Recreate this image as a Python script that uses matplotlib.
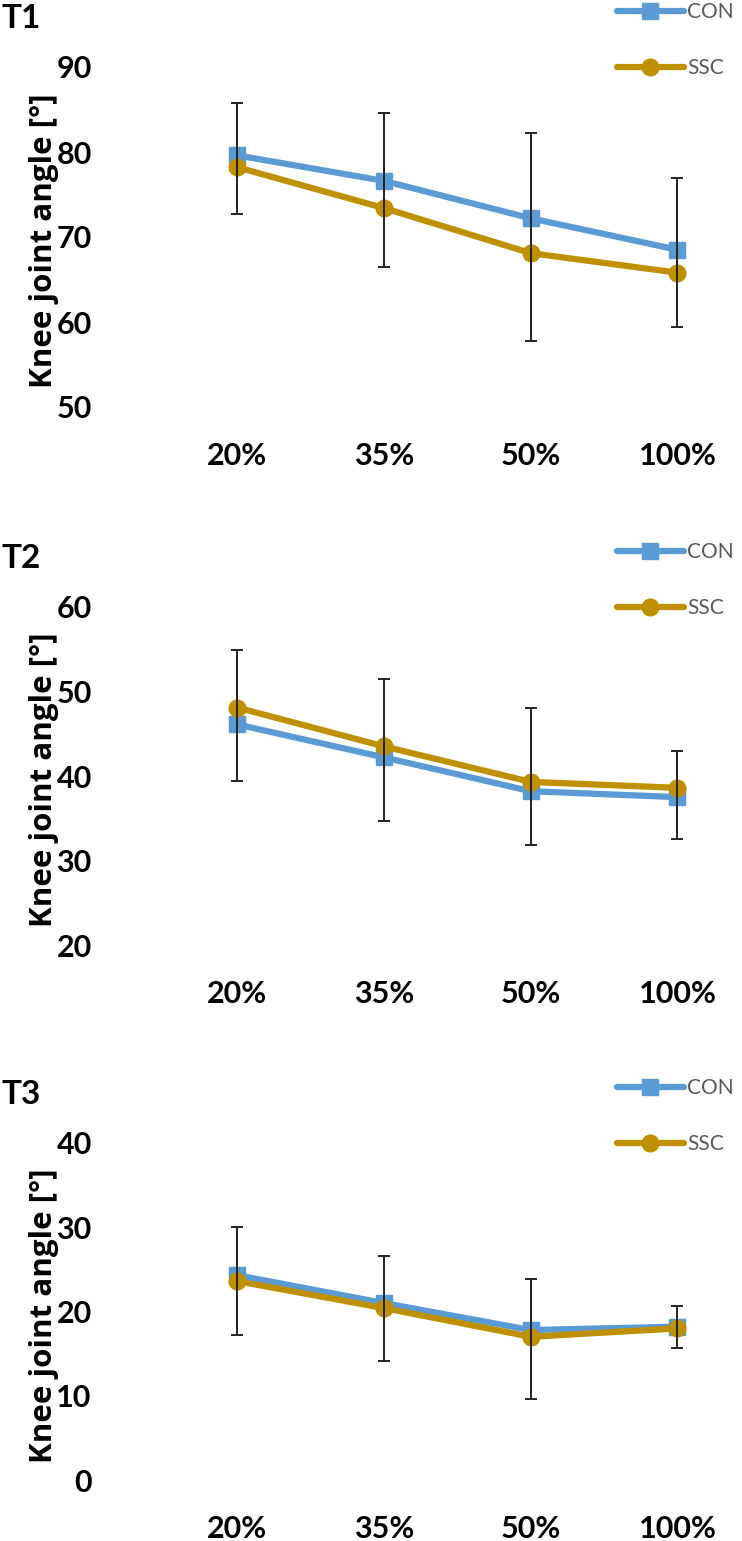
import numpy as np
import matplotlib
matplotlib.use("Agg")
import matplotlib.pyplot as plt

plt.rcParams['font.family'] = ['Lato', 'DejaVu Sans']

categories = ["20%", "35%", "50%", "100%"]
series_names = ["CON", "SSC"]

# mean values
t1_con = [79.6, 76.6, 72.2, 68.5]
t1_ssc = [78.2, 73.4, 68.1, 65.8]
t2_con = [46.1, 42.2, 38.2, 37.5]
t2_ssc = [48.1, 43.5, 39.3, 38.6]
t3_con = [24.3, 21.0, 17.8, 18.2]
t3_ssc = [23.6, 20.4, 17.0, 18.0]

# error bar ends (top from CON, bottom from SSC)
t1_top = [85.8, 84.6, 82.2, 76.9]
t1_bot = [72.7, 66.5, 57.8, 59.4]
t2_top = [54.9, 51.5, 48.0, 43.0]
t2_bot = [39.4, 34.7, 31.8, 32.5]
t3_top = [30.0, 26.6, 23.8, 20.7]
t3_bot = [17.2, 14.1, 9.6, 15.7]

panels = [
    ("T1", t1_con, t1_ssc, t1_top, t1_bot, (50, 90)),
    ("T2", t2_con, t2_ssc, t2_top, t2_bot, (20, 60)),
    ("T3", t3_con, t3_ssc, t3_top, t3_bot, (0, 40)),
]

W, H = 742, 1541
fig = plt.figure(figsize=(W / 100, H / 100), dpi=100)

blue = "#5B9BD5"
gold = "#BF9000"

tops_px = [67, 607, 1143]
bots_px = [407, 945, 1480]
left_px = 164

x = np.arange(len(categories))

for (name, con, ssc, top, bot, ylim), tp, bp in zip(panels, tops_px, bots_px):
    ax = fig.add_axes([left_px / W, 1 - bp / H, (W - left_px) / W, (bp - tp) / H])
    l1, = ax.plot(x, con, color=blue, lw=4.5, marker="s", ms=12, label="CON", zorder=2,
                  solid_capstyle="round")
    l2, = ax.plot(x, ssc, color=gold, lw=4.5, marker="o", ms=12, label="SSC", zorder=3,
                  solid_capstyle="round")
    top = np.array(top)
    bot = np.array(bot)
    mid = (top + bot) / 2
    ax.errorbar(x, mid, yerr=(top - bot) / 2, fmt="none", ecolor="#222222",
                elinewidth=1.4, capsize=4, capthick=1.4, zorder=4)

    ax.set_xlim(-0.5, (W - left_px) / 146.7 - 0.5)
    ax.set_ylim(*ylim)
    ax.set_yticks(np.arange(ylim[0], ylim[1] + 1, 10))
    ax.set_xticks(x)
    ax.set_xticklabels(categories)
    for s in ax.spines.values():
        s.set_visible(False)
    ax.tick_params(axis="both", length=0, labelsize=22)
    ax.tick_params(axis="y", pad=52)
    ax.tick_params(axis="x", pad=25)
    for lab in ax.get_xticklabels() + ax.get_yticklabels():
        lab.set_fontweight("bold")
    ax.patch.set_alpha(0)

    fig.text(44 / W, 1 - (tp + bp + 8) / 2 / H, "Knee joint angle [°]", rotation=90,
             ha="center", va="center", fontsize=22.5, fontweight="bold",
             family=["Open Sans", "DejaVu Sans"])
    fig.text(2 / W, 1 - (tp - 48) / H, name, ha="left", va="center",
             fontsize=24, fontweight="bold")

    ax.legend(handles=[l1, l2], loc="upper left",
              bbox_to_anchor=(617 / W, 1 - (tp - 65) / H),
              bbox_transform=fig.transFigure, frameon=False, fontsize=15,
              handlelength=3.2, handletextpad=0.15, labelspacing=1.75,
              borderpad=0, borderaxespad=0, labelcolor="#595959")

fig.savefig("out.png", dpi=100)
